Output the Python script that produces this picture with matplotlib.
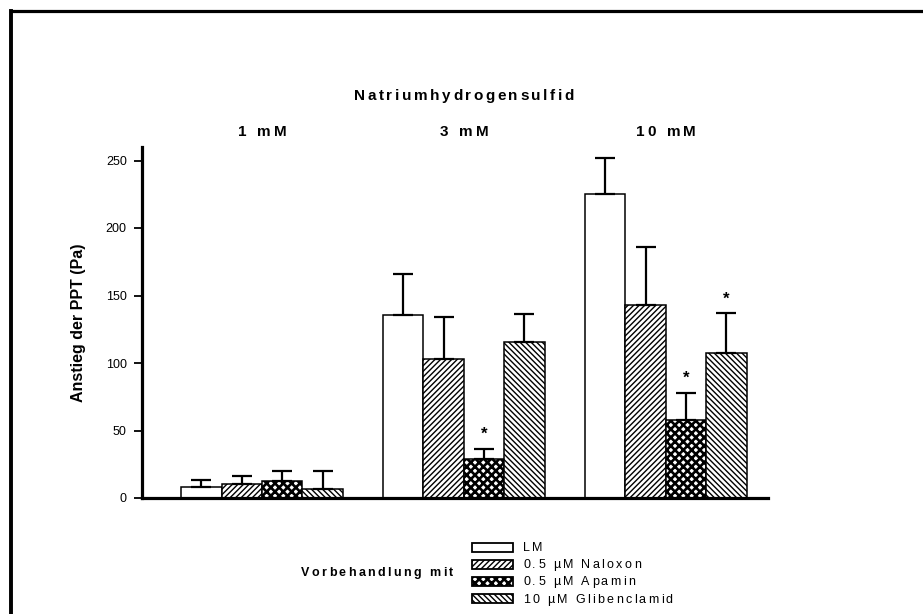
import matplotlib
matplotlib.use('Agg')
import matplotlib.pyplot as plt
import numpy as np
from matplotlib.patches import Rectangle
from matplotlib.lines import Line2D
from matplotlib.font_manager import FontProperties, findfont
from matplotlib.ft2font import FT2Font

plt.rcParams['font.family'] = ['Liberation Sans', 'DejaVu Sans']
plt.rcParams['hatch.linewidth'] = 1.0

W, H, DPI = 923, 614, 100

concentrations = ['1 mM', '3 mM', '10 mM']
treatments = ['LM', '0.5 µM Naloxon', '0.5 µM Apamin', '10 µM Glibenclamid']
lm = [8.4, 135.2, 225.5]
lm_err = [5.0, 31.0, 26.0]
naloxon = [10.1, 103.1, 143.2]
naloxon_err = [6.2, 30.9, 43.0]
apamin = [12.6, 29.2, 57.9]
apamin_err = [7.7, 7.1, 20.0]
gliben = [6.9, 115.5, 107.3]
gliben_err = [13.4, 20.7, 29.4]
# significance marks: (treatment index, concentration index)
stars = [(2, 1), (2, 2), (3, 2)]

means = [lm, naloxon, apamin, gliben]
errs = [lm_err, naloxon_err, apamin_err, gliben_err]
hatches = ['', '//////', 'xxxx', '\\\\\\\\\\\\']
hatch_lw = [1.0, 1.0, 1.9, 1.0]


def px(x, y):
    return x / W, 1 - y / H


def tracked(fig, x, y, s, size, weight='normal', track=2.0, ha='center'):
    # draw text char by char with extra letter spacing (pixels)
    prop = FontProperties(family='Liberation Sans', size=size, weight=weight)
    font = FT2Font(findfont(prop))
    font.set_size(size, 72)
    widths = [font.load_char(ord(c)).linearHoriAdvance / 65536 * DPI / 72 for c in s]
    total = sum(widths) + track * (len(s) - 1)
    x0 = {'center': x - total / 2, 'left': x, 'right': x - total}[ha]
    for c, w in zip(s, widths):
        fig.text(*px(x0, y), c, fontproperties=prop, ha='left', va='baseline')
        x0 += w + track


def set_hlw(patch, lw):
    if hasattr(patch, 'set_hatch_linewidth'):
        patch.set_hatch_linewidth(lw)


fig = plt.figure(figsize=(W / DPI, H / DPI), dpi=DPI)
ax = fig.add_axes([142 / W, 1 - 498 / H, (768 - 142) / W, (498 - 147) / H])

centers = np.array([0, 5, 10])
for i in range(4):
    xpos = centers - 1.5 + i
    with plt.rc_context({'hatch.linewidth': hatch_lw[i]}):
        bars = ax.bar(xpos, means[i], width=1.0, color='white', edgecolor='black',
                      linewidth=1.1, hatch=hatches[i], zorder=2)
    for b in bars:
        set_hlw(b, hatch_lw[i])
    ax.errorbar(xpos, means[i], yerr=[np.zeros(3), errs[i]], fmt='none',
                ecolor='black', elinewidth=1.6, capsize=7.5, capthick=1.6, zorder=3)

for i, j in stars:
    x = centers[j] - 1.5 + i
    ax.annotate('*', (x, means[i][j] + errs[i][j]), xytext=(0, 5),
                textcoords='offset points', ha='center', va='bottom',
                fontsize=12, fontweight='bold')

ax.set_xlim(-2.97, 12.53)
ax.set_ylim(0, 260)
ax.set_yticks([0, 50, 100, 150, 200, 250])
ax.set_xticks([])
for side in ['top', 'right']:
    ax.spines[side].set_visible(False)
ax.spines['left'].set_linewidth(2.3)
ax.spines['bottom'].set_linewidth(2.3)
ax.tick_params(axis='y', length=6, width=1.3, labelsize=9, pad=5)
ax.set_ylabel('Anstieg der PPT (Pa)', fontsize=11.5, fontweight='bold', labelpad=14)

tracked(fig, 464, 100, 'Natriumhydrogensulfid', 11, weight='bold', track=2.6)
for j, c in enumerate(concentrations):
    tracked(fig, 262 + 202 * j, 136, c, 11, weight='bold', track=3.2)

# legend
tracked(fig, 453, 576, 'Vorbehandlung mit', 9, weight='bold', track=2.4, ha='right')
for k, (lab, h) in enumerate(zip(treatments, hatches)):
    yc = 547 + 17.2 * k
    x0, y0 = px(472, yc + 4.5)
    with plt.rc_context({'hatch.linewidth': hatch_lw[k]}):
        r = Rectangle((x0, y0), 41 / W, 9 / H, transform=fig.transFigure,
                      facecolor='white', edgecolor='black', linewidth=1.3, hatch=h)
    set_hlw(r, hatch_lw[k])
    fig.add_artist(r)
    tracked(fig, 523, yc + 4, lab, 9, track=2.3, ha='left')

# outer frame
fig.add_artist(Line2D([11 / W, 1], [1 - 10.5 / H] * 2, transform=fig.transFigure,
                      color='black', linewidth=2.3))
fig.add_artist(Line2D([11 / W] * 2, [0, 1 - 10.5 / H], transform=fig.transFigure,
                      color='black', linewidth=2.8))

fig.savefig('out.png', dpi=DPI)
